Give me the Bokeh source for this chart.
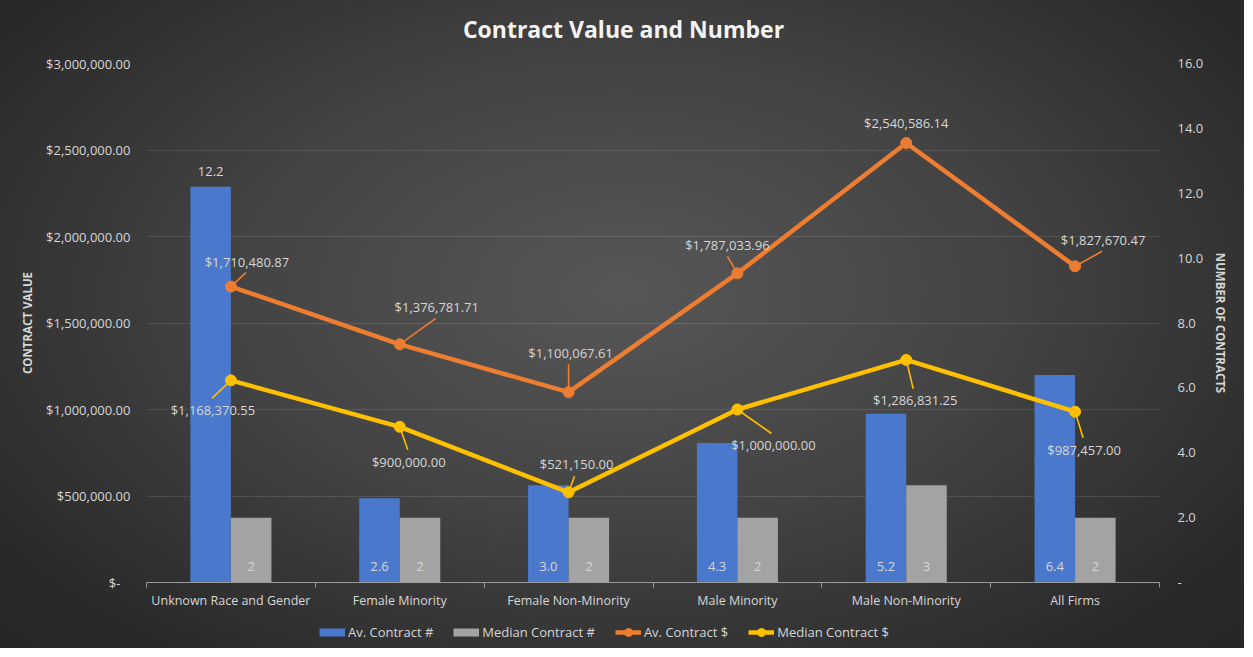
from bokeh.plotting import figure
from bokeh.layouts import column
from bokeh.models import (ColumnDataSource, Range1d, LinearAxis, FixedTicker, SingleIntervalTicker,
                          CustomJSTickFormatter, Legend, LegendItem, Label)
from bokeh.transform import dodge
from bokeh.core.properties import value
from bokeh.embed import file_html
from bokeh.resources import INLINE

# ---------------- data ----------------
title_text = "Contract Value and Number"
categories = ["Unknown Race and Gender", "Female Minority", "Female Non-Minority",
              "Male Minority", "Male Non-Minority", "All Firms"]
av_contract_count = [12.2, 2.6, 3.0, 4.3, 5.2, 6.4]
median_contract_count = [2, 2, 2, 2, 3, 2]
av_contract_value = [1710480.87, 1376781.71, 1100067.61, 1787033.96, 2540586.14, 1827670.47]
median_contract_value = [1168370.55, 900000.00, 521150.00, 1000000.00, 1286831.25, 987457.00]
av_count_labels = ["12.2", "2.6", "3.0", "4.3", "5.2", "6.4"]
median_count_labels = ["2", "2", "2", "2", "3", "2"]
series_names = ["Av. Contract #", "Median Contract #", "Av. Contract $", "Median Contract $"]

# ---------------- label layout (screen px, not data) ----------------
av_count_label_mode = ["outside", "base", "base", "base", "base", "base"]
av_val_label_off = [(16, -25), (37, -37), (2, -39), (-10, -28), (0, -20), (28, -26)]
av_val_leader = [(15, -14), (36, -26), (0, -28), (-10, -17), None, (27, -15)]
med_val_label_off = [(-18, 30), (9, 35), (8, -28), (36, 35), (9, 40), (9, 38)]
med_val_leader = [(-19, 18), (8, 23), (6, -16), (34, 24), (7, 29), (8, 26)]

FONT = "Open Sans"
TXT = "#d6d6d6"
ORANGE = "#ED7D31"
YELLOW = "#FFC000"
BLUE = "#4a78cc"
GRAY = "#a3a3a3"

W = 1244
H_TITLE, H_MAIN, H_LEG = 53, 567, 28
ML, MR, MT, MB = 146, 85, 10, 38
FW, FH = W - ML - MR, H_MAIN - MT - MB

n = len(categories)
xc = [i + 0.5 for i in range(n)]
YMAX, CMAX = 3000000, 16
sx = n / FW
sy = YMAX / FH

def strip(height, xr, yr):
    f = figure(width=W, height=height, output_backend="svg", toolbar_location=None,
               x_range=xr, y_range=yr, x_axis_location=None, y_axis_location=None,
               min_border_left=0, min_border_right=0, min_border_top=0, min_border_bottom=0)
    f.background_fill_alpha = 0
    f.border_fill_alpha = 0
    f.outline_line_color = None
    f.grid.visible = False
    return f

# ---------------- title strip (pixel-unit ranges) ----------------
t = strip(H_TITLE, Range1d(0, FW), Range1d(0, H_TITLE))
t.add_layout(Label(x=W / 2 + 1 - ML, y=H_TITLE - 28, text=title_text,
                   text_align="center", text_baseline="middle",
                   text_font=FONT, text_font_size="23px", text_font_style="bold",
                   text_color="#f4f4f4"))

# ---------------- main chart ----------------
p = figure(width=W, height=H_MAIN, output_backend="svg", toolbar_location=None,
           x_range=Range1d(0, n), y_range=Range1d(0, YMAX),
           min_border_left=ML, min_border_right=MR, min_border_top=MT, min_border_bottom=MB)
p.extra_y_ranges = {"count": Range1d(0, CMAX)}
p.background_fill_alpha = 0
p.border_fill_alpha = 0
p.outline_line_color = None

# x axis
xa = p.xaxis[0]
xa.ticker = FixedTicker(ticks=xc, minor_ticks=[float(i) for i in range(n + 1)])
xa.major_label_overrides = {x: c for x, c in zip(xc, categories)}
xa.major_tick_line_color = None
xa.major_tick_out = 0
xa.major_tick_in = 0
xa.minor_tick_line_color = "#9a9a9a"
xa.minor_tick_out = 5
xa.minor_tick_in = 0
xa.axis_line_color = "#9a9a9a"
xa.major_label_text_font = FONT
xa.major_label_text_font_size = "12.5px"
xa.major_label_text_color = TXT
xa.major_label_standoff = 4

def style_y(ax, standoff, lstandoff):
    ax.axis_line_color = None
    ax.major_tick_line_color = None
    ax.minor_tick_line_color = None
    ax.major_tick_out = 0
    ax.major_tick_in = 0
    ax.minor_tick_out = 0
    ax.major_label_text_font = FONT
    ax.major_label_text_font_size = "13px"
    ax.major_label_text_color = TXT
    ax.major_label_standoff = standoff
    ax.axis_label_text_font = FONT
    ax.axis_label_text_font_size = "11.5px"
    ax.axis_label_text_font_style = "bold"
    ax.axis_label_text_color = TXT
    ax.axis_label_standoff = lstandoff

ya = p.yaxis[0]
ya.ticker = SingleIntervalTicker(interval=500000)
ya.formatter = CustomJSTickFormatter(code="""
if (tick == 0) { return '$-   '; }
return '$' + tick.toLocaleString('en-US', {minimumFractionDigits: 2, maximumFractionDigits: 2});
""")
ya.axis_label = "CONTRACT VALUE"
style_y(ya, 16, 8)

ra = LinearAxis(y_range_name="count", ticker=SingleIntervalTicker(interval=2),
                formatter=CustomJSTickFormatter(code="if (tick == 0) { return '-'; } return tick.toFixed(1);"))
ra.axis_label = "NUMBER OF CONTRACTS"
style_y(ra, 18, 7)
p.add_layout(ra, "right")

p.xgrid.visible = False
p.ygrid.ticker = ya.ticker
p.ygrid.grid_line_color = "#ffffff"
p.ygrid.grid_line_alpha = 0.1

# bars
BW = 0.24
src = ColumnDataSource(dict(x=xc, av=av_contract_count, med=median_contract_count))
p.vbar(x=dodge("x", -BW / 2), top="av", width=BW, source=src, y_range_name="count",
       fill_color=BLUE, line_color=None)
p.vbar(x=dodge("x", BW / 2), top="med", width=BW, source=src, y_range_name="count",
       fill_color=GRAY, line_color=None)

# bar labels
ly = [v if m == "outside" else 0 for v, m in zip(av_contract_count, av_count_label_mode)]
loff = [-15 if m == "outside" else -16 for m in av_count_label_mode]
bl = ColumnDataSource(dict(x=[x - BW / 2 for x in xc], y=ly, t=av_count_labels, yo=loff))
p.text(x="x", y="y", text="t", y_offset="yo", source=bl, y_range_name="count",
       text_align="center", text_baseline="middle", text_font=value(FONT),
       text_font_size="13px", text_color=TXT)
gl = ColumnDataSource(dict(x=[x + BW / 2 for x in xc], y=[0] * n, t=median_count_labels))
p.text(x="x", y="y", text="t", y_offset=-16, source=gl, y_range_name="count",
       text_align="center", text_baseline="middle", text_font=value(FONT),
       text_font_size="13px", text_color=TXT)

# lines
def fmt_money(v):
    return "${:,.2f}".format(v)

def add_line(vals, color, label_off, leaders):
    s = ColumnDataSource(dict(x=xc, y=vals,
                              t=[fmt_money(v) for v in vals],
                              xo=[o[0] for o in label_off], yo=[o[1] for o in label_off]))
    lx0, ly0, lx1, ly1 = [], [], [], []
    for x, y, ld in zip(xc, vals, leaders):
        if ld is None:
            continue
        lx0.append(x); ly0.append(y)
        lx1.append(x + ld[0] * sx); ly1.append(y - ld[1] * sy)
    p.segment(x0=lx0, y0=ly0, x1=lx1, y1=ly1, line_color=color, line_width=1.6)
    p.line(x="x", y="y", source=s, line_color=color, line_width=4.5)
    p.scatter(x="x", y="y", source=s, size=11, fill_color=color, line_color=color)
    p.text(x="x", y="y", text="t", x_offset="xo", y_offset="yo", source=s,
           text_align="center", text_baseline="middle", text_font=value(FONT),
           text_font_size="13px", text_color=TXT)

add_line(av_contract_value, ORANGE, av_val_label_off, av_val_leader)
add_line(median_contract_value, YELLOW, med_val_label_off, med_val_leader)

# ---------------- legend strip: same series, viewed outside their range ----------------
q = strip(H_LEG, Range1d(-3, -2), Range1d(-3, -2))
# bar swatches drawn as thick flat strokes so the swatch is as flat as the reference's
r_b1 = q.line(x=xc, y=av_contract_count, line_color=BLUE, line_width=8, line_cap="butt")
r_b2 = q.line(x=xc, y=median_contract_count, line_color=GRAY, line_width=8, line_cap="butt")
r_ol = q.line(x=xc, y=av_contract_value, line_color=ORANGE, line_width=4.5)
r_os = q.scatter(x=xc, y=av_contract_value, size=11, fill_color=ORANGE, line_color=ORANGE)
r_yl = q.line(x=xc, y=median_contract_value, line_color=YELLOW, line_width=4.5)
r_ys = q.scatter(x=xc, y=median_contract_value, size=11, fill_color=YELLOW, line_color=YELLOW)

legend = Legend(items=[LegendItem(label=series_names[0], renderers=[r_b1]),
                       LegendItem(label=series_names[1], renderers=[r_b2]),
                       LegendItem(label=series_names[2], renderers=[r_ol, r_os]),
                       LegendItem(label=series_names[3], renderers=[r_yl, r_ys])],
                orientation="horizontal", location=(173, 6))
legend.label_text_font = FONT
legend.label_text_font_size = "13px"
legend.label_text_color = TXT
legend.background_fill_alpha = 0
legend.border_line_color = None
legend.glyph_width = 26
legend.glyph_height = 20
legend.label_height = 20
legend.label_standoff = 3
legend.spacing = 20
legend.padding = 2
legend.margin = 0
q.add_layout(legend)

lay = column(t, p, q, spacing=0)
lay.styles = {"background-image":
              "radial-gradient(ellipse 70% 80% at 50% 45%, #575757 0%, #434343 45%, #2a2a2a 85%, #262626 100%)"}

open("out.html", "w").write(file_html(lay, INLINE))
